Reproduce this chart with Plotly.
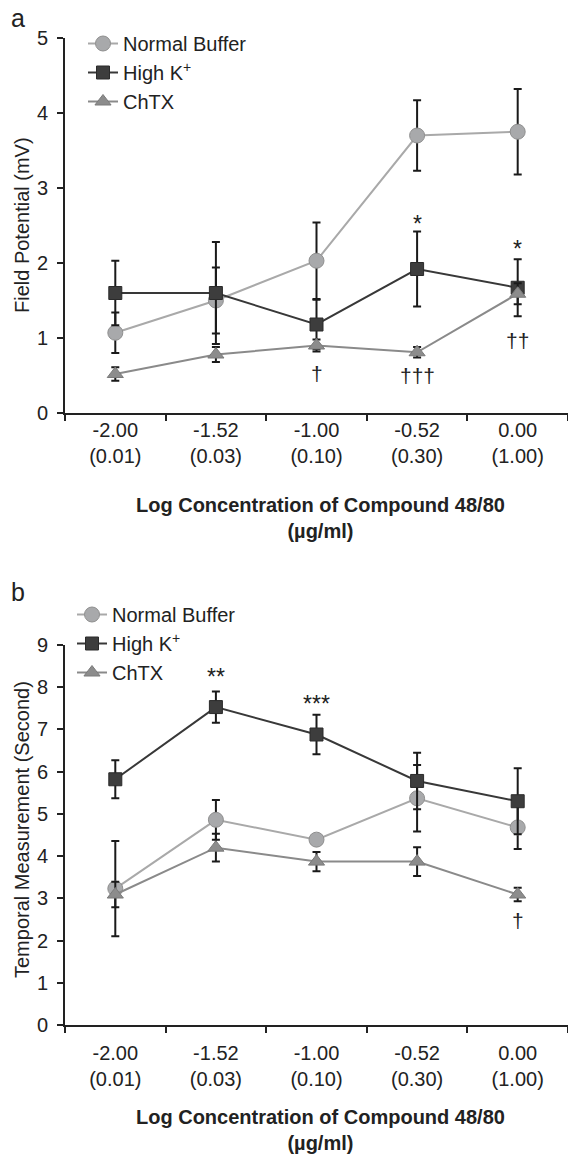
import plotly.graph_objects as go

# ---- data ----
log_conc = ["-2.00", "-1.52", "-1.00", "-0.52", "0.00"]
conc = ["(0.01)", "(0.03)", "(0.10)", "(0.30)", "(1.00)"]
categories = [f"{a}<br>{b}" for a, b in zip(log_conc, conc)]

series_names = ["Normal Buffer", "High K<sup>+</sup>", "ChTX"]

# Panel a: Field Potential (mV)
a_normal = [1.07, 1.50, 2.03, 3.70, 3.75]
a_normal_err = [0.27, 0.44, 0.51, 0.47, 0.57]
a_highk = [1.60, 1.60, 1.18, 1.92, 1.67]
a_highk_err = [0.43, 0.68, 0.33, 0.50, 0.38]
a_chtx = [0.52, 0.78, 0.90, 0.81, 1.59]
a_chtx_err = [0.09, 0.10, 0.08, 0.07, 0.14]

# Panel b: Temporal Measurement (Second)
b_normal = [3.23, 4.86, 4.39, 5.37, 4.68]
b_normal_err = [1.13, 0.47, 0.10, 0.79, 0.51]
b_highk = [5.82, 7.53, 6.88, 5.78, 5.30]
b_highk_err = [0.45, 0.37, 0.47, 0.67, 0.78]
b_chtx = [3.09, 4.20, 3.87, 3.87, 3.09]
b_chtx_err = [0.30, 0.33, 0.23, 0.34, 0.16]

# significance marks: (category index, y value, text)
a_marks = [(3, 2.61, "*"), (4, 2.28, "*"), (2, 0.52, "†"), (3, 0.50, "†††"), (4, 0.97, "††")]
b_marks = [(1, 8.40, "**"), (2, 7.78, "***"), (4, 2.48, "†")]

# ---- styling ----
W, H = 568, 1156
FONT = "Liberation Sans, Arial, sans-serif"
AX = "#222222"
ERR = "#1a1a1a"
styles = [
    dict(line=dict(color="#a9a9a9", width=2),
         marker=dict(symbol="circle", size=15, color="#a8a9ab", line=dict(color="#8f8f8f", width=1))),
    dict(line=dict(color="#383838", width=2),
         marker=dict(symbol="square", size=13, color="#3d3d3d", line=dict(color="#2a2a2a", width=1))),
    dict(line=dict(color="#8a8a8a", width=2),
         marker=dict(symbol="triangle-up", size=14, color="#8c8c8c", line=dict(color="#7a7a7a", width=1))),
]

ML = 65
PW = W - ML


def py(pix):
    return 1 - pix / H


def px_x(pix):
    return (pix - ML) / PW


fig = go.Figure()

panels = [
    ("x", "y", "legend", [a_normal, a_highk, a_chtx], [a_normal_err, a_highk_err, a_chtx_err]),
    ("x2", "y2", "legend2", [b_normal, b_highk, b_chtx], [b_normal_err, b_highk_err, b_chtx_err]),
]
for xa, ya, leg, vals, errs in panels:
    for name, v, e, st in zip(series_names, vals, errs, styles):
        fig.add_trace(go.Scatter(
            x=categories, y=v, name=name, mode="lines+markers",
            xaxis=xa, yaxis=ya, legend=leg,
            line=st["line"], marker=st["marker"],
            error_y=dict(type="data", array=e, visible=True, color=ERR, thickness=2, width=4),
        ))


def xaxis_cfg(anchor, standoff):
    return dict(
        type="category", categoryorder="array", categoryarray=categories,
        range=[-0.5, 4.5], domain=[0, 1], anchor=anchor,
        tickson="boundaries", ticks="outside", ticklen=6, tickwidth=2, tickcolor=AX,
        showline=True, linewidth=2, linecolor=AX, showgrid=False, zeroline=False,
        tickfont=dict(family=FONT, size=20, color=AX), ticklabelstandoff=standoff,
        automargin=False,
    )


def yaxis_cfg(anchor, rng, top_px, bot_px):
    return dict(
        range=rng, dtick=1, domain=[py(bot_px), py(top_px)], anchor=anchor,
        ticks="outside", ticklen=6, tickwidth=2, tickcolor=AX,
        showline=True, linewidth=2, linecolor=AX, showgrid=False, zeroline=False,
        tickfont=dict(family=FONT, size=20, color=AX), ticklabelstandoff=5,
        automargin=False,
    )


def paper_text(text, xpix, ypix, size=20, angle=0):
    return dict(text=text, x=px_x(xpix), y=py(ypix), xref="paper", yref="paper",
                xanchor="center", yanchor="middle", textangle=angle, showarrow=False,
                font=dict(family=FONT, size=size, color=AX))


annotations = [
    paper_text("a", 18, 18, size=25),
    paper_text("b", 18, 592, size=25),
    paper_text("Field Potential (mV)", 22, 225, angle=-90),
    paper_text("Temporal Measurement (Second)", 22, 830, angle=-90),
]
xtitle = "<b>Log Concentration of Compound 48/80<br>(µg/ml)</b>"
annotations.append(paper_text(xtitle, 320, 518))
annotations.append(paper_text(xtitle, 320, 1130))

for marks, xr, yr in [(a_marks, "x", "y"), (b_marks, "x2", "y2")]:
    for i, yv, t in marks:
        star = "*" in t
        annotations.append(dict(text=t, x=categories[i], y=yv, xref=xr, yref=yr, showarrow=False,
                                xanchor="center", yanchor="middle",
                                yshift=-7 if star else 0,
                                font=dict(family=FONT, size=23 if star else 21, color=AX)))

fig.update_layout(
    width=W, height=H,
    margin=dict(l=ML, r=0, t=0, b=0),
    paper_bgcolor="white", plot_bgcolor="white",
    font=dict(family=FONT, size=20, color=AX),
    xaxis=xaxis_cfg("y", -2),
    yaxis=yaxis_cfg("x", [0, 5], 38, 413),
    xaxis2=xaxis_cfg("y2", 9),
    yaxis2=yaxis_cfg("x2", [0, 9], 645, 1025),
    legend=dict(x=px_x(83), y=py(24), xanchor="left", yanchor="top",
                bgcolor="rgba(0,0,0,0)", font=dict(family=FONT, size=20, color=AX),
                tracegroupgap=0),
    legend2=dict(x=px_x(72), y=py(595), xanchor="left", yanchor="top",
                 bgcolor="rgba(0,0,0,0)", font=dict(family=FONT, size=20, color=AX),
                 tracegroupgap=0),
    annotations=annotations,
    showlegend=True,
)

fig.write_html("out.html")
